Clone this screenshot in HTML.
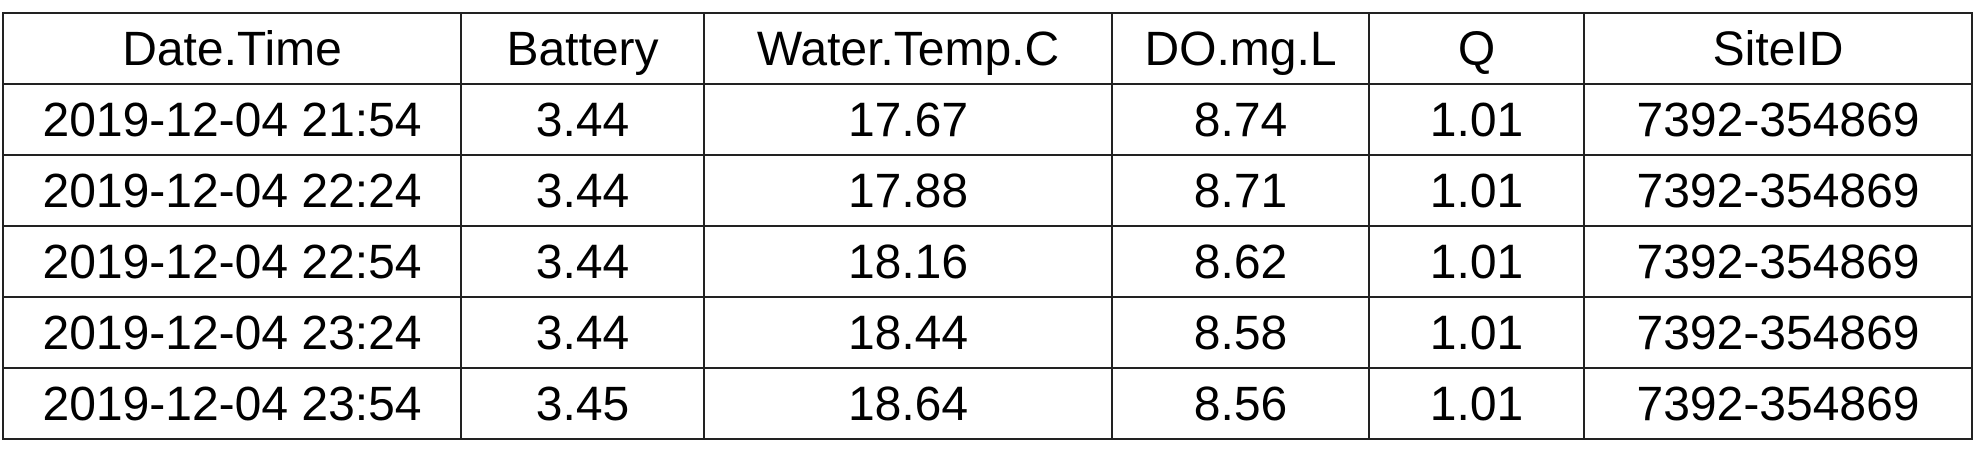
<!DOCTYPE html>
<html><head><meta charset="utf-8"><style>
html,body{margin:0;padding:0;background:#fff;width:1975px;height:474px;overflow:hidden}
table{position:absolute;left:2px;top:12px;border-collapse:collapse;font-family:"Liberation Sans",sans-serif;font-size:48px;color:#000}
td{border:2.5px solid #222;text-align:center;padding:3px 0 0 0;height:66px;line-height:66px;white-space:nowrap;overflow:hidden}
</style></head><body>
<table>
<colgroup><col style="width:458px"><col style="width:243px"><col style="width:408px"><col style="width:257px"><col style="width:215px"><col style="width:388px"></colgroup>
<tr><td>Date.Time</td><td>Battery</td><td>Water.Temp.C</td><td>DO.mg.L</td><td>Q</td><td>SiteID</td></tr>
<tr><td>2019-12-04 21:54</td><td>3.44</td><td>17.67</td><td>8.74</td><td>1.01</td><td>7392-354869</td></tr>
<tr><td>2019-12-04 22:24</td><td>3.44</td><td>17.88</td><td>8.71</td><td>1.01</td><td>7392-354869</td></tr>
<tr><td>2019-12-04 22:54</td><td>3.44</td><td>18.16</td><td>8.62</td><td>1.01</td><td>7392-354869</td></tr>
<tr><td>2019-12-04 23:24</td><td>3.44</td><td>18.44</td><td>8.58</td><td>1.01</td><td>7392-354869</td></tr>
<tr><td>2019-12-04 23:54</td><td>3.45</td><td>18.64</td><td>8.56</td><td>1.01</td><td>7392-354869</td></tr>
</table>
</body></html>
